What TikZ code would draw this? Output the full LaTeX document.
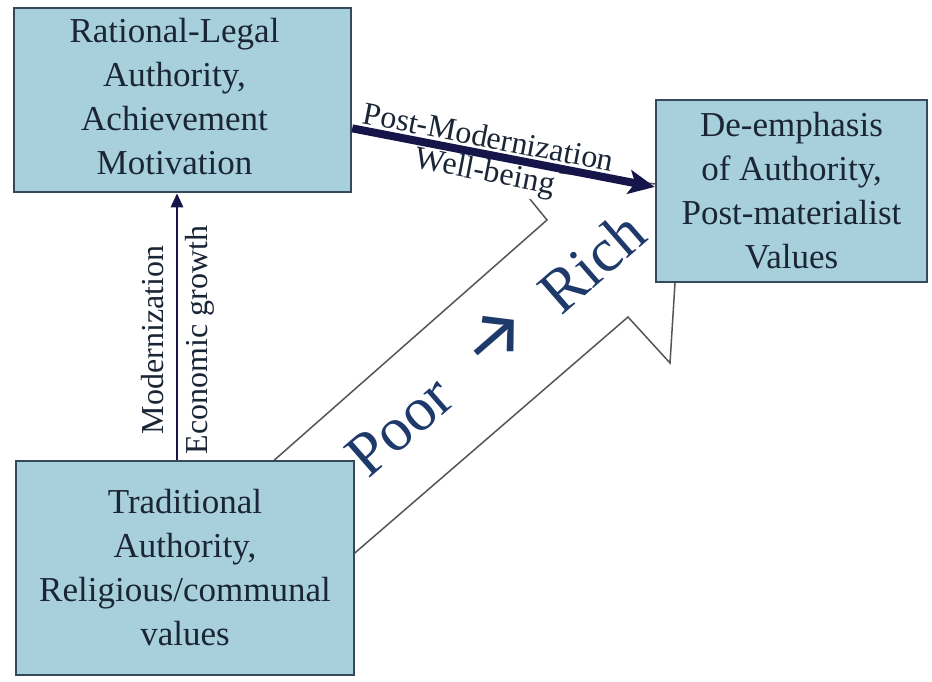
\documentclass[tikz,border=0pt]{standalone}
\usepackage{fontspec}
\setmainfont{Liberation Serif}
\newfontfamily\arrowfont{Fira Sans}
\usetikzlibrary{arrows.meta,calc}

\definecolor{boxfill}{HTML}{A8D0DC}
\definecolor{boxline}{HTML}{34495A}
\definecolor{ink}{HTML}{1A2535}
\definecolor{navy}{HTML}{15154A}
\definecolor{richblue}{HTML}{1D3A6A}
\definecolor{bandline}{HTML}{555555}

\begin{document}
\begin{tikzpicture}[x=0.5pt,y=-0.5pt,
  box/.style={draw=boxline, line width=1.25pt, fill=boxfill, text=ink,
    inner sep=0pt, align=center, font=\fontsize{17.5}{22}\selectfont},
  lbl/.style={text=ink, inner sep=1pt, font=\fontsize{16}{18}\selectfont},
  big/.style={text=richblue, rotate=41, inner sep=0pt,
    font=\fontsize{31}{34}\selectfont},
  band/.style={draw=bandline, line width=0.75pt, fill=white},
  thick arrow/.style={draw=navy, line width=4pt,
    -{Stealth[length=13pt,width=12pt,inset=3pt]}},
  thin arrow/.style={draw=navy, line width=1.4pt,
    -{Triangle[length=7pt,width=6pt]}}
]
\useasboundingbox (0,0) rectangle (932,681);

% wide outlined block arrow from poor to rich
\draw[band] (246,485) -- (547,220) -- (503,166) -- (681,187)
  -- (670,363) -- (628,317) -- (327,577) -- cycle;

% the three value systems
\node[box, minimum width=168.5pt, minimum height=92pt] (b1) at (182.5,100)
  {\begin{tabular}{@{}c@{}}Rational-Legal\\Authority,\\Achievement\\Motivation\end{tabular}\hspace{8pt}};
\node[box, minimum width=169pt, minimum height=107pt] (b2) at (185,568)
  {Traditional\\Authority,\\Religious/communal\\values};
\node[box, minimum width=135.5pt, minimum height=91pt] (b3) at (791.5,191)
  {De-emphasis\\of Authority,\\Post-materialist\\Values};

% post-modernization step
\coordinate (p1) at ($(b1.north east)!0.652!(b1.south east)$);
\coordinate (p3) at ($(b3.north west)!0.478!(b3.south west)$);
\path (p1) -- (p3)
  node[lbl, pos=0.44, sloped, above=2pt] (pm) {Post-Modernization}
  node[lbl, fill=white, pos=0.45, sloped, below=1pt] (wb) {Well-being};
\draw[thick arrow] (p1) -- (p3);

% modernization step
\coordinate (vx) at (177,0);
\draw[thin arrow] (b2.north -| vx) -- (b1.south -| vx)
  node[lbl, pos=0.45, sloped, above=5pt] (mo) {Modernization}
  node[lbl, pos=0.45, sloped, below=2.5pt] (eg) {Economic growth};

% poor -> rich
\node[big] (poor) at (400,426) {Poor};
\node[big] (to) at (495,338) {\arrowfont\fontsize{38}{38}\selectfont →};
\node[big] (rich) at (592,262) {Rich};
\end{tikzpicture}
\end{document}
